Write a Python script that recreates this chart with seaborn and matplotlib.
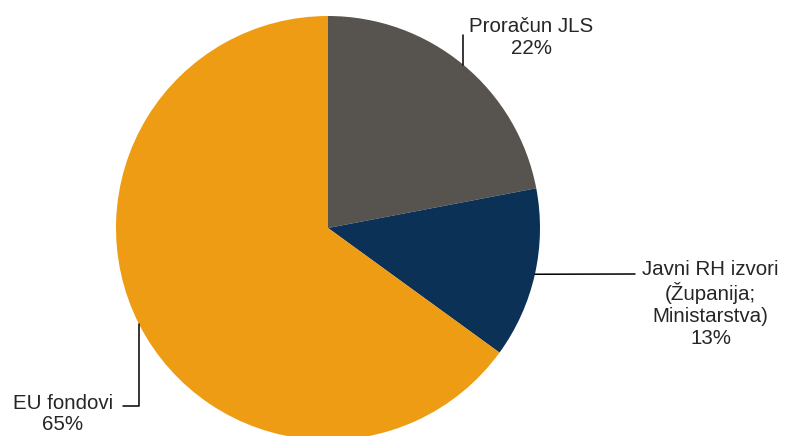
import numpy as np
import matplotlib
matplotlib.use('Agg')
import matplotlib.pyplot as plt
import seaborn as sns

sns.set_theme(style="white")
plt.rcParams['font.family'] = ['Liberation Sans', 'DejaVu Sans']

# Podaci
kategorije = ['Proračun JLS', 'Javni RH izvori\n(Županija;\nMinistarstva)', 'EU fondovi']
udjeli = [22, 13, 65]
boje = ['#57544f', '#0b3156', '#ee9c13']

fig = plt.figure(figsize=(7.86, 4.36), dpi=100)
ax = fig.add_axes([0, 0, 1, 1])

cx, cy, r = 328, 208, 212
wedges, _ = ax.pie(udjeli, colors=boje, startangle=90, counterclock=False,
                   center=(cx, cy), radius=r, wedgeprops={'linewidth': 0})

ax.set_xlim(0, 786)
ax.set_ylim(0, 436)
ax.set_aspect('equal')
ax.axis('off')

fs = 14.8
# Oznake s linijama vodilicama
for w, kat, u in zip(wedges, kategorije, udjeli):
    kut = np.deg2rad((w.theta1 + w.theta2) / 2)
    x0, y0 = cx + r * np.cos(kut), cy + r * np.sin(kut)
    tekst = f'{kat}\n{u}%'
    if kat.startswith('Proračun'):
        ax.plot([x0, x0], [y0, 401], color='black', lw=1.1)
        ax.text(469, 398.5, tekst, ha='left', va='center', fontsize=fs,
                linespacing=1.17, multialignment='center')
    elif kat.startswith('Javni'):
        ax.plot([x0, 635], [y0, 162], color='black', lw=1.1)
        ax.text(710.5, 132, tekst, ha='center', va='center', fontsize=fs,
                linespacing=1.17)
    else:
        ax.plot([x0, x0, 123], [y0, 30, 30], color='black', lw=1.1)
        ax.text(63, 22, tekst, ha='center', va='center', fontsize=fs,
                linespacing=1.17)

plt.savefig('out.png', dpi=100)
plt.close()
